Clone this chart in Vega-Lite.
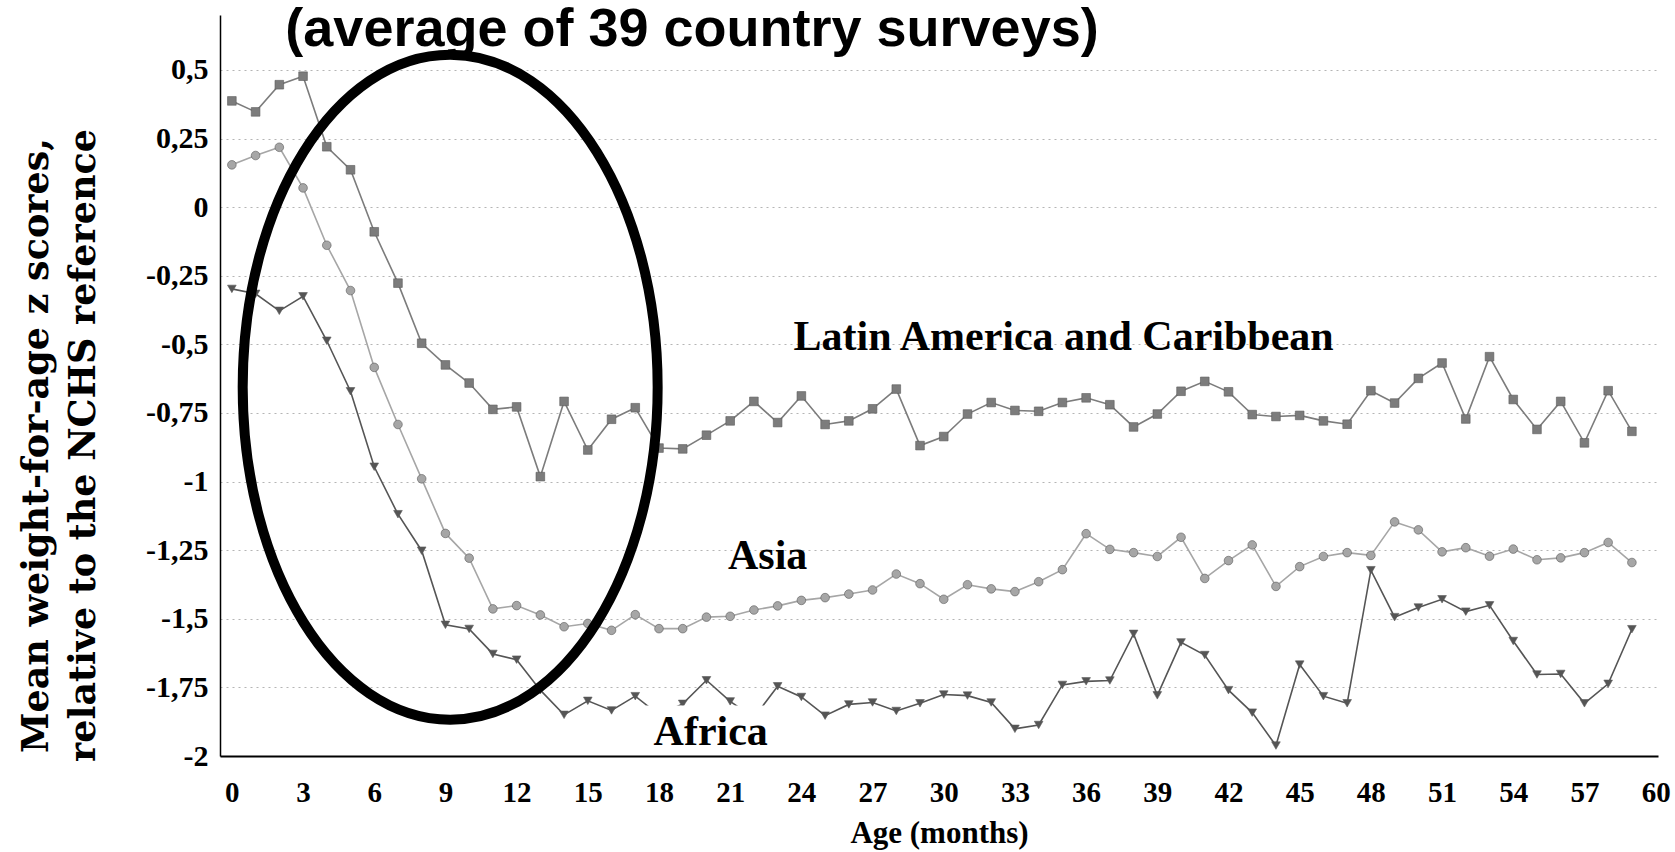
{
"$schema": "https://vega.github.io/schema/vega-lite/v6.json",
"width": 1438, "height": 741,
"autosize": {"type": "none"},
"padding": {"left": 220, "top": 15, "right": 17, "bottom": 96},
"background": "white",
"title": {"text": "(average of 39 country surveys)", "font": "Liberation Sans", "fontSize": 54, "fontWeight": "bold", "color": "black", "anchor": "middle", "frame": "group", "dx": -247, "baseline": "alphabetic", "offset": 0, "dy": 85},
"config": {"view": {"stroke": null}},
"datasets": {
"series": [
{"month":0,"region":"Latin America and Caribbean","z":0.387},{"month":1,"region":"Latin America and Caribbean","z":0.347},{"month":2,"region":"Latin America and Caribbean","z":0.446},{"month":3,"region":"Latin America and Caribbean","z":0.477},{"month":4,"region":"Latin America and Caribbean","z":0.22},{"month":5,"region":"Latin America and Caribbean","z":0.136},{"month":6,"region":"Latin America and Caribbean","z":-0.09},{"month":7,"region":"Latin America and Caribbean","z":-0.277},{"month":8,"region":"Latin America and Caribbean","z":-0.496},{"month":9,"region":"Latin America and Caribbean","z":-0.575},{"month":10,"region":"Latin America and Caribbean","z":-0.641},{"month":11,"region":"Latin America and Caribbean","z":-0.737},{"month":12,"region":"Latin America and Caribbean","z":-0.728},{"month":13,"region":"Latin America and Caribbean","z":-0.982},{"month":14,"region":"Latin America and Caribbean","z":-0.708},{"month":15,"region":"Latin America and Caribbean","z":-0.885},{"month":16,"region":"Latin America and Caribbean","z":-0.773},{"month":17,"region":"Latin America and Caribbean","z":-0.731},{"month":18,"region":"Latin America and Caribbean","z":-0.878},{"month":19,"region":"Latin America and Caribbean","z":-0.881},{"month":20,"region":"Latin America and Caribbean","z":-0.831},{"month":21,"region":"Latin America and Caribbean","z":-0.779},{"month":22,"region":"Latin America and Caribbean","z":-0.708},{"month":23,"region":"Latin America and Caribbean","z":-0.785},{"month":24,"region":"Latin America and Caribbean","z":-0.688},{"month":25,"region":"Latin America and Caribbean","z":-0.792},{"month":26,"region":"Latin America and Caribbean","z":-0.779},{"month":27,"region":"Latin America and Caribbean","z":-0.735},{"month":28,"region":"Latin America and Caribbean","z":-0.663},{"month":29,"region":"Latin America and Caribbean","z":-0.869},{"month":30,"region":"Latin America and Caribbean","z":-0.836},{"month":31,"region":"Latin America and Caribbean","z":-0.754},{"month":32,"region":"Latin America and Caribbean","z":-0.712},{"month":33,"region":"Latin America and Caribbean","z":-0.741},{"month":34,"region":"Latin America and Caribbean","z":-0.744},{"month":35,"region":"Latin America and Caribbean","z":-0.712},{"month":36,"region":"Latin America and Caribbean","z":-0.695},{"month":37,"region":"Latin America and Caribbean","z":-0.72},{"month":38,"region":"Latin America and Caribbean","z":-0.801},{"month":39,"region":"Latin America and Caribbean","z":-0.754},{"month":40,"region":"Latin America and Caribbean","z":-0.671},{"month":41,"region":"Latin America and Caribbean","z":-0.635},{"month":42,"region":"Latin America and Caribbean","z":-0.673},{"month":43,"region":"Latin America and Caribbean","z":-0.756},{"month":44,"region":"Latin America and Caribbean","z":-0.763},{"month":45,"region":"Latin America and Caribbean","z":-0.759},{"month":46,"region":"Latin America and Caribbean","z":-0.779},{"month":47,"region":"Latin America and Caribbean","z":-0.791},{"month":48,"region":"Latin America and Caribbean","z":-0.669},{"month":49,"region":"Latin America and Caribbean","z":-0.714},{"month":50,"region":"Latin America and Caribbean","z":-0.624},{"month":51,"region":"Latin America and Caribbean","z":-0.568},{"month":52,"region":"Latin America and Caribbean","z":-0.772},{"month":53,"region":"Latin America and Caribbean","z":-0.545},{"month":54,"region":"Latin America and Caribbean","z":-0.701},{"month":55,"region":"Latin America and Caribbean","z":-0.81},{"month":56,"region":"Latin America and Caribbean","z":-0.708},{"month":57,"region":"Latin America and Caribbean","z":-0.859},{"month":58,"region":"Latin America and Caribbean","z":-0.669},{"month":59,"region":"Latin America and Caribbean","z":-0.817},
{"month":0,"region":"Asia","z":0.154},{"month":1,"region":"Asia","z":0.188},{"month":2,"region":"Asia","z":0.218},{"month":3,"region":"Asia","z":0.07},{"month":4,"region":"Asia","z":-0.139},{"month":5,"region":"Asia","z":-0.304},{"month":6,"region":"Asia","z":-0.584},{"month":7,"region":"Asia","z":-0.792},{"month":8,"region":"Asia","z":-0.99},{"month":9,"region":"Asia","z":-1.189},{"month":10,"region":"Asia","z":-1.279},{"month":11,"region":"Asia","z":-1.464},{"month":12,"region":"Asia","z":-1.452},{"month":13,"region":"Asia","z":-1.486},{"month":14,"region":"Asia","z":-1.529},{"month":15,"region":"Asia","z":-1.517},{"month":16,"region":"Asia","z":-1.542},{"month":17,"region":"Asia","z":-1.485},{"month":18,"region":"Asia","z":-1.536},{"month":19,"region":"Asia","z":-1.536},{"month":20,"region":"Asia","z":-1.494},{"month":21,"region":"Asia","z":-1.491},{"month":22,"region":"Asia","z":-1.468},{"month":23,"region":"Asia","z":-1.453},{"month":24,"region":"Asia","z":-1.433},{"month":25,"region":"Asia","z":-1.423},{"month":26,"region":"Asia","z":-1.41},{"month":27,"region":"Asia","z":-1.395},{"month":28,"region":"Asia","z":-1.337},{"month":29,"region":"Asia","z":-1.372},{"month":30,"region":"Asia","z":-1.429},{"month":31,"region":"Asia","z":-1.376},{"month":32,"region":"Asia","z":-1.391},{"month":33,"region":"Asia","z":-1.401},{"month":34,"region":"Asia","z":-1.365},{"month":35,"region":"Asia","z":-1.321},{"month":36,"region":"Asia","z":-1.19},{"month":37,"region":"Asia","z":-1.247},{"month":38,"region":"Asia","z":-1.259},{"month":39,"region":"Asia","z":-1.273},{"month":40,"region":"Asia","z":-1.203},{"month":41,"region":"Asia","z":-1.353},{"month":42,"region":"Asia","z":-1.288},{"month":43,"region":"Asia","z":-1.231},{"month":44,"region":"Asia","z":-1.382},{"month":45,"region":"Asia","z":-1.31},{"month":46,"region":"Asia","z":-1.273},{"month":47,"region":"Asia","z":-1.259},{"month":48,"region":"Asia","z":-1.269},{"month":49,"region":"Asia","z":-1.147},{"month":50,"region":"Asia","z":-1.176},{"month":51,"region":"Asia","z":-1.256},{"month":52,"region":"Asia","z":-1.241},{"month":53,"region":"Asia","z":-1.272},{"month":54,"region":"Asia","z":-1.246},{"month":55,"region":"Asia","z":-1.285},{"month":56,"region":"Asia","z":-1.278},{"month":57,"region":"Asia","z":-1.259},{"month":58,"region":"Asia","z":-1.222},{"month":59,"region":"Asia","z":-1.295},
{"month":0,"region":"Africa","z":-0.298},{"month":1,"region":"Africa","z":-0.316},{"month":2,"region":"Africa","z":-0.378},{"month":3,"region":"Africa","z":-0.325},{"month":4,"region":"Africa","z":-0.487},{"month":5,"region":"Africa","z":-0.671},{"month":6,"region":"Africa","z":-0.946},{"month":7,"region":"Africa","z":-1.119},{"month":8,"region":"Africa","z":-1.252},{"month":9,"region":"Africa","z":-1.522},{"month":10,"region":"Africa","z":-1.537},{"month":11,"region":"Africa","z":-1.628},{"month":12,"region":"Africa","z":-1.649},{"month":13,"region":"Africa","z":-1.76},{"month":14,"region":"Africa","z":-1.85},{"month":15,"region":"Africa","z":-1.799},{"month":16,"region":"Africa","z":-1.834},{"month":17,"region":"Africa","z":-1.782},{"month":18,"region":"Africa","z":-1.85},{"month":19,"region":"Africa","z":-1.81},{"month":20,"region":"Africa","z":-1.724},{"month":21,"region":"Africa","z":-1.801},{"month":22,"region":"Africa","z":-1.86},{"month":23,"region":"Africa","z":-1.746},{"month":24,"region":"Africa","z":-1.785},{"month":25,"region":"Africa","z":-1.853},{"month":26,"region":"Africa","z":-1.812},{"month":27,"region":"Africa","z":-1.805},{"month":28,"region":"Africa","z":-1.836},{"month":29,"region":"Africa","z":-1.808},{"month":30,"region":"Africa","z":-1.776},{"month":31,"region":"Africa","z":-1.78},{"month":32,"region":"Africa","z":-1.805},{"month":33,"region":"Africa","z":-1.901},{"month":34,"region":"Africa","z":-1.887},{"month":35,"region":"Africa","z":-1.741},{"month":36,"region":"Africa","z":-1.728},{"month":37,"region":"Africa","z":-1.725},{"month":38,"region":"Africa","z":-1.555},{"month":39,"region":"Africa","z":-1.779},{"month":40,"region":"Africa","z":-1.586},{"month":41,"region":"Africa","z":-1.632},{"month":42,"region":"Africa","z":-1.76},{"month":43,"region":"Africa","z":-1.842},{"month":44,"region":"Africa","z":-1.962},{"month":45,"region":"Africa","z":-1.667},{"month":46,"region":"Africa","z":-1.782},{"month":47,"region":"Africa","z":-1.808},{"month":48,"region":"Africa","z":-1.323},{"month":49,"region":"Africa","z":-1.494},{"month":50,"region":"Africa","z":-1.459},{"month":51,"region":"Africa","z":-1.429},{"month":52,"region":"Africa","z":-1.474},{"month":53,"region":"Africa","z":-1.451},{"month":54,"region":"Africa","z":-1.581},{"month":55,"region":"Africa","z":-1.703},{"month":56,"region":"Africa","z":-1.701},{"month":57,"region":"Africa","z":-1.808},{"month":58,"region":"Africa","z":-1.737},{"month":59,"region":"Africa","z":-1.538}
],
"labels": [
{"label":"Latin America and Caribbean","month":35.05,"z":-0.52},
{"label":"Asia","month":22.58,"z":-1.32},
{"label":"Africa","month":20.18,"z":-1.96}
],
"mask": [{"m1":17.45,"m2":22.45,"z1":-1.995,"z2":-1.816}],
"ellipse": [{"month":9.2,"z":-0.656}]
},
"layer": [
{
"data": {"name": "series"},
"mark": {"type": "line", "strokeWidth": 1.6},
"encoding": {
"x": {"field": "month", "type": "quantitative", "scale": {"domain": [-0.5, 60.1], "nice": false, "zero": false},
 "axis": {"values": [0,3,6,9,12,15,18,21,24,27,30,33,36,39,42,45,48,51,54,57,60], "grid": false, "ticks": false, "domainColor": "black", "domainWidth": 2, "zindex": 1,
  "labelFont": "Liberation Serif", "labelFontWeight": "bold", "labelFontSize": 29, "labelColor": "black", "labelPadding": 22, "labelFlush": false,
  "title": "Age (months)", "titleFont": "Liberation Serif", "titleFontWeight": "bold", "titleFontSize": 31, "titleColor": "black", "titleX": 719, "titleY": 86, "titleBaseline": "alphabetic", "titleAlign": "center"}},
"y": {"field": "z", "type": "quantitative", "scale": {"domain": [-2, 0.7], "nice": false, "zero": false},
 "axis": {"values": [-2,-1.75,-1.5,-1.25,-1,-0.75,-0.5,-0.25,0,0.25,0.5], "grid": true, "gridDash": [2,4], "gridColor": "#b5b5b5", "gridWidth": 1, "ticks": false, "domainColor": "black", "domainWidth": 1.5,
  "labelExpr": "replace(toString(datum.value), '.', ',')",
  "labelFont": "Liberation Serif", "labelFontWeight": "bold", "labelFontSize": 30, "labelColor": "black", "labelPadding": 12,
  "title": ["Mean weight-for-age z scores,", "relative to the NCHS reference"], "titleFont": "DejaVu Serif", "titleFontWeight": "bold", "titleFontSize": 36.5, "titleColor": "black", "titleLineHeight": 47, "titleAngle": -90, "titleX": -184, "titleY": 430, "titleAlign": "center", "titleBaseline": "middle"}},
"color": {"field": "region", "type": "nominal", "scale": {"domain": ["Latin America and Caribbean", "Asia", "Africa"], "range": ["#7c7c7c", "#a6a6a6", "#555555"]}, "legend": null}
}
},
{
"data": {"name": "series"},
"mark": {"type": "point", "filled": true, "size": 75, "opacity": 1, "stroke": "#5a5a5a", "strokeWidth": 0.6},
"encoding": {
"x": {"field": "month", "type": "quantitative"},
"y": {"field": "z", "type": "quantitative"},
"color": {"field": "region", "type": "nominal", "legend": null},
"shape": {"field": "region", "type": "nominal", "scale": {"domain": ["Latin America and Caribbean", "Asia", "Africa"], "range": ["square", "circle", "triangle-down"]}, "legend": null}
}
},
{
"mark": {"type": "rule", "color": "black", "strokeWidth": 1.8},
"encoding": {"y": {"datum": 0}}
},
{
"mark": {"type": "rule", "color": "black", "strokeWidth": 1.8},
"encoding": {"x": {"datum": 60.1}}
},
{
"data": {"name": "mask"},
"mark": {"type": "rect", "fill": "white"},
"encoding": {"x": {"field": "m1", "type": "quantitative"}, "x2": {"field": "m2"}, "y": {"field": "z1", "type": "quantitative"}, "y2": {"field": "z2"}}
},
{
"data": {"name": "labels"},
"mark": {"type": "text", "font": "Liberation Serif", "fontWeight": "bold", "fontSize": 42, "color": "black", "align": "center", "baseline": "alphabetic"},
"encoding": {"x": {"field": "month", "type": "quantitative"}, "y": {"field": "z", "type": "quantitative"}, "text": {"field": "label"}}
},
{
"data": {"name": "ellipse"},
"mark": {"type": "point", "filled": false, "fill": null, "stroke": "black", "strokeWidth": 10, "opacity": 1, "size": 442225, "shape": "M-0.624,0A0.624,1,0,1,0,0.624,0A0.624,1,0,1,0,-0.624,0Z"},
"encoding": {"x": {"field": "month", "type": "quantitative"}, "y": {"field": "z", "type": "quantitative"}}
}
]
}
